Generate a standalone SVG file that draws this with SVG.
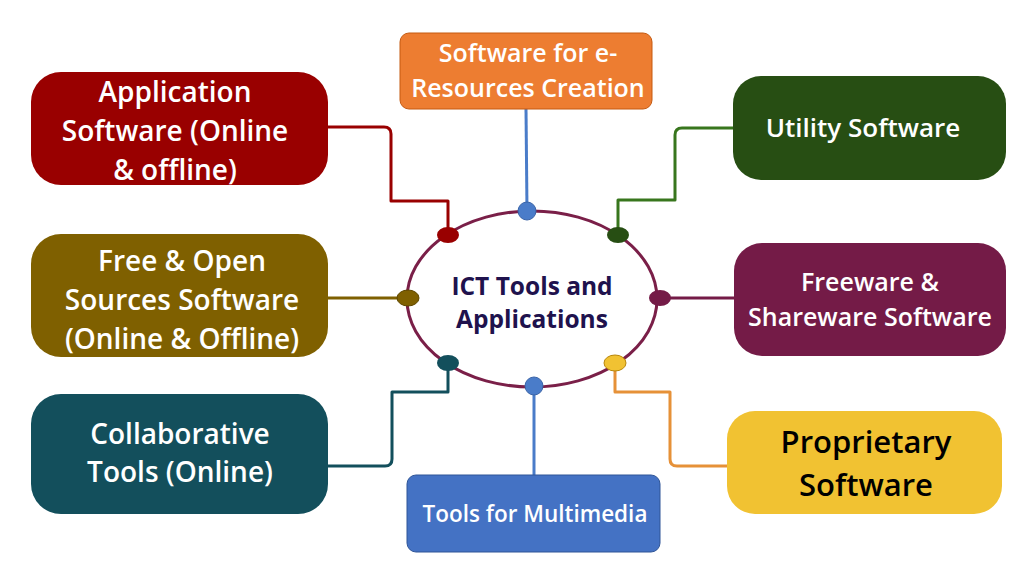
<svg xmlns="http://www.w3.org/2000/svg" width="1024" height="576" viewBox="0 0 1024 576">
<style>
.t{font-family:"Open Sans","Liberation Sans",sans-serif;font-weight:600;fill:#fff;text-anchor:middle;dominant-baseline:central}
.c{fill:none;stroke-width:3;stroke-linejoin:round}
</style>
<rect width="1024" height="576" fill="#fff"/>
<g id="connectors">
<path class="c" stroke="#990000" d="M328,127 H384 Q391,127 391,134 V201 H448 V235"/>
<path class="c" stroke="#4a7cc9" d="M526,109 L527,211"/>
<path class="c" stroke="#38761d" d="M618,235 V200 H675 V135 Q675,128 682,128 H733"/>
<path class="c" stroke="#7f6000" d="M328,298 H408"/>
<path class="c" stroke="#741b47" d="M660,298 H734"/>
<path class="c" stroke="#134f5c" d="M328,466 H385 Q392,466 392,459 V392 H448 V363"/>
<path class="c" stroke="#4a7cc9" d="M534,386 V475"/>
<path class="c" stroke="#e69138" d="M615,363 V392 H670 V459 Q670,466 677,466 H727"/>
</g>
<g id="center">
<ellipse cx="532" cy="299" rx="125" ry="88" fill="#fff" stroke="#7a1f48" stroke-width="3"/>
<text class="t" x="532" y="285" style="fill:#20124d;font-weight:bold;font-size:24.5px">ICT Tools and</text>
<text class="t" x="532" y="318" style="fill:#20124d;font-weight:bold;font-size:24.5px">Applications</text>
</g>
<g id="dots">
<circle cx="527" cy="211" r="9" fill="#4a7cc9" stroke="#3a64a8" stroke-width="1"/>
<ellipse cx="448" cy="235" rx="11" ry="8" fill="#990000"/>
<ellipse cx="618" cy="235" rx="11" ry="8" fill="#274e13"/>
<ellipse cx="408" cy="298" rx="11" ry="8" fill="#7f6000" stroke="#5e4700" stroke-width="1"/>
<ellipse cx="660" cy="298" rx="11" ry="8" fill="#741b47"/>
<ellipse cx="448" cy="363" rx="11" ry="8" fill="#134f5c"/>
<ellipse cx="615" cy="363" rx="11" ry="8" fill="#f1c232" stroke="#b8860b" stroke-width="1"/>
<circle cx="534" cy="386" r="9" fill="#4a7cc9" stroke="#3a64a8" stroke-width="1"/>
</g>
<g id="app">
<rect x="31" y="72" width="297" height="113" rx="30" fill="#990000"/>
<text class="t" x="175" y="91" font-size="28">Application</text>
<text class="t" x="175" y="130" font-size="28">Software (Online</text>
<text class="t" x="175" y="169" font-size="28">&amp; offline)</text>
</g>
<g id="foss">
<rect x="31" y="234" width="297" height="123" rx="30" fill="#7f6000"/>
<text class="t" x="182" y="260" font-size="28">Free &amp; Open</text>
<text class="t" x="182" y="299" font-size="28">Sources Software</text>
<text class="t" x="182" y="338" font-size="28">(Online &amp; Offline)</text>
</g>
<g id="collab">
<rect x="31" y="394" width="297" height="120" rx="30" fill="#134f5c"/>
<text class="t" x="180" y="433" font-size="28">Collaborative</text>
<text class="t" x="180" y="471" font-size="28">Tools (Online)</text>
</g>
<g id="eres">
<rect x="400" y="33" width="252" height="76" rx="9" fill="#ed7d31" stroke="#c55a11" stroke-width="1"/>
<text class="t" x="528" y="52" font-size="25">Software for e-</text>
<text class="t" x="528" y="87" font-size="25">Resources Creation</text>
</g>
<g id="utility">
<rect x="733" y="76" width="273" height="104" rx="28" fill="#274e13"/>
<text class="t" x="863" y="127" font-size="26">Utility Software</text>
</g>
<g id="freeware">
<rect x="734" y="243" width="272" height="113" rx="28" fill="#741b47"/>
<text class="t" x="870" y="281" font-size="25">Freeware &amp;</text>
<text class="t" x="870" y="316" font-size="25">Shareware Software</text>
</g>
<g id="proprietary">
<rect x="727" y="411" width="275" height="103" rx="28" fill="#f1c232"/>
<text class="t" x="866" y="441" font-size="31" style="fill:#000">Proprietary</text>
<text class="t" x="866" y="484" font-size="31" style="fill:#000">Software</text>
</g>
<g id="multimedia">
<rect x="407" y="475" width="253" height="77" rx="9" fill="#4472c4" stroke="#2f5597" stroke-width="1"/>
<text class="t" x="535" y="513" font-size="22.5">Tools for Multimedia</text>
</g>
</svg>
